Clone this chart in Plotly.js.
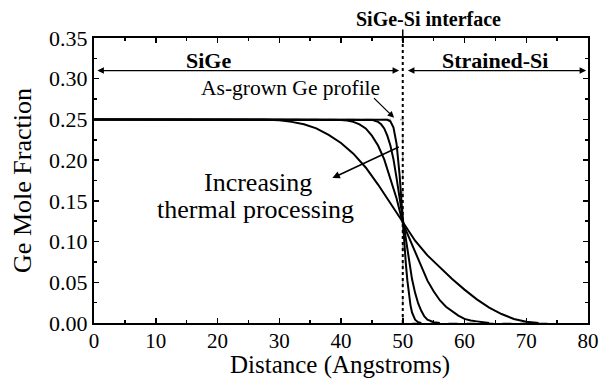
<!DOCTYPE html>
<html><head><meta charset="utf-8">
<script src="https://cdn.plot.ly/plotly-3.0.1.min.js"></script>
<style>html,body{margin:0;padding:0;background:#fff}#chart{width:607px;height:385px}</style>
</head><body><div id="chart"></div>
<script>
// As-grown step profile
const asGrownX = [0, 50, 50, 75];
const asGrownY = [0.25, 0.25, 0, 0];

// Annealed profiles (least to most thermal processing)
const c1X = [0, 45, 46, 47, 47.5, 48, 48.5, 49, 49.25, 49.5, 49.75, 50, 50.25, 50.5, 50.75, 51, 51.25, 51.5, 52, 52.5, 53];
const c1Y = [0.25, 0.25, 0.25, 0.2499, 0.2496, 0.2477, 0.240, 0.220, 0.204, 0.181, 0.154, 0.123, 0.098, 0.073, 0.052, 0.035, 0.022, 0.013, 0.004, 0.001, 0];

const c2X = [0, 42, 44, 45, 46, 46.5, 47, 47.5, 48, 48.5, 49, 49.5, 50, 50.5, 51, 51.5, 52, 52.5, 53, 53.5, 54, 55, 56];
const c2Y = [0.25, 0.25, 0.2499, 0.2494, 0.247, 0.244, 0.239, 0.230, 0.218, 0.201, 0.178, 0.153, 0.123, 0.099, 0.075, 0.054, 0.037, 0.024, 0.015, 0.008, 0.004, 0.001, 0];

const c3X = [0, 36, 38, 40, 41, 42, 43, 44, 45, 46, 47, 48, 49, 50, 51, 52, 53, 54, 55, 56, 57, 58, 59, 60, 61, 62, 64];
const c3Y = [0.25, 0.25, 0.2499, 0.2494, 0.2487, 0.247, 0.244, 0.239, 0.230, 0.218, 0.201, 0.178, 0.153, 0.123, 0.105, 0.086, 0.068, 0.052, 0.039, 0.028, 0.020, 0.014, 0.009, 0.005, 0.003, 0.002, 0];

const c4X = [0, 26, 28, 30, 32, 34, 36, 38, 40, 42, 44, 46, 48, 50, 52, 54, 56, 58, 60, 62, 64, 66, 68, 70, 72];
const c4Y = [0.25, 0.25, 0.2495, 0.249, 0.247, 0.244, 0.239, 0.231, 0.221, 0.208, 0.191, 0.170, 0.147, 0.123, 0.101, 0.083, 0.068, 0.054, 0.041, 0.029, 0.019, 0.011, 0.005, 0.0015, 0];

// Interface marker
const interfaceX = [50, 50];
const interfaceY = [0, 0.35];

const xTickVals = [0, 10, 20, 30, 40, 50, 60, 70, 80];
const yTickVals = [0, 0.05, 0.10, 0.15, 0.20, 0.25, 0.30, 0.35];
const yTickText = ['0.00', '0.05', '0.10', '0.15', '0.20', '0.25', '0.30', '0.35'];
const xTitle = 'Distance (Angstroms)';
const yTitle = 'Ge Mole Fraction';

const serif = '"Liberation Serif", "Times New Roman", Times, serif';
const black = '#000';

const curve = (x, y) => ({x, y, type: 'scatter', mode: 'lines', line: {color: black, width: 2}, hoverinfo: 'skip'});

const data = [
  {x: asGrownX, y: asGrownY, type: 'scatter', mode: 'lines', line: {color: '#a8a8a8', width: 1.5, dash: 'dash'}, hoverinfo: 'skip'},
  curve(c1X, c1Y), curve(c2X, c2Y), curve(c3X, c3Y), curve(c4X, c4Y),
  {x: interfaceX, y: interfaceY, type: 'scatter', mode: 'lines', line: {color: black, width: 2, dash: 'dot'}, hoverinfo: 'skip'}
];

const arrow = (x, y, ax, ay, extra) => Object.assign({
  x, y, ax, ay, xref: 'x', yref: 'y', axref: 'x', ayref: 'y', text: '', showarrow: true,
  arrowhead: 2, arrowsize: 1, arrowwidth: 1.5, arrowcolor: black, standoff: 0, startstandoff: 0
}, extra || {});

const txt = (x, y, text, size, extra) => Object.assign({
  x, y, xref: 'x', yref: 'y', text, showarrow: false, xanchor: 'center', yanchor: 'middle',
  font: {family: serif, size, color: black}
}, extra || {});

const layout = {
  width: 607, height: 385,
  margin: {l: 94, r: 19, t: 38, b: 62},
  paper_bgcolor: '#fff', plot_bgcolor: '#fff',
  showlegend: false,
  font: {family: serif, color: black},
  xaxis: {
    range: [0, 80], tickvals: xTickVals, ticks: 'inside', ticklen: 5, tickwidth: 1.5, tickcolor: black,
    minor: {dtick: 5, ticks: 'inside', ticklen: 3, tickwidth: 1.5, tickcolor: black},
    showline: true, linewidth: 2, linecolor: black, mirror: 'ticks', showgrid: false, zeroline: false,
    tickfont: {family: serif, size: 21, color: black}, ticklabelstandoff: -2
  },
  yaxis: {
    range: [0, 0.35], tickvals: yTickVals, ticktext: yTickText, ticks: 'inside', ticklen: 5, tickwidth: 1.5, tickcolor: black,
    minor: {dtick: 0.025, ticks: 'inside', ticklen: 3, tickwidth: 1.5, tickcolor: black},
    showline: true, linewidth: 2, linecolor: black, mirror: 'ticks', showgrid: false, zeroline: false,
    tickfont: {family: serif, size: 22, color: black},
    title: {text: yTitle, font: {family: serif, size: 26, color: black}, standoff: 10}
  },
  annotations: [
    {x: 0.498, y: -0.149, xref: 'paper', yref: 'paper', text: xTitle, showarrow: false, xanchor: 'center', yanchor: 'middle', font: {family: serif, size: 25, color: black}},
    arrow(49.4, 0.31, 0.3, 0.31, {arrowside: 'end+start', startarrowhead: 2, arrowwidth: 1.3}),
    arrow(79.7, 0.31, 50.6, 0.31, {arrowside: 'end+start', startarrowhead: 2, arrowwidth: 1.3}),
    arrow(48.6, 0.252, 45.1, 0.278, {arrowwidth: 1.3}),
    arrow(38.6, 0.178, 49.6, 0.217, {arrowwidth: 1.5}),
    txt(18.5, 0.322, '<b>SiGe</b>', 22),
    txt(64.9, 0.322, '<b>Strained-Si</b>', 22),
    txt(54.2, 1.066, '<b>SiGe-Si interface</b>', 20, {yref: 'paper'}),
    {x: 50, y: 1, xref: 'x', yref: 'paper', ax: 0, ay: -10, text: '', showarrow: true, arrowhead: 0, arrowwidth: 1.5, arrowcolor: black},
    txt(31.9, 0.2886, 'As-grown Ge profile', 21.5),
    txt(26.6, 0.172, 'Increasing', 26),
    txt(26.2, 0.139, 'thermal processing', 26)
  ]
};

Plotly.newPlot('chart', data, layout, {staticPlot: true, displayModeBar: false});
</script>
</body></html>
